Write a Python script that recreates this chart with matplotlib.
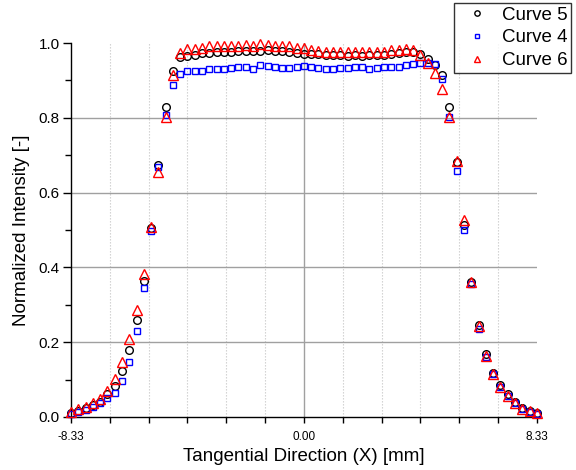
import numpy as np
import matplotlib
matplotlib.use("Agg")
import matplotlib.pyplot as plt

plt.rcParams["font.family"] = ["Liberation Sans", "DejaVu Sans"]

# sample positions across the tangential direction (65 points, -8.33 .. 8.33 mm)
x_mm = np.linspace(-8.33, 8.33, 65)

curve5 = [0.010, 0.016, 0.023, 0.031, 0.041, 0.061, 0.084, 0.122, 0.180, 0.260,
          0.363, 0.504, 0.673, 0.828, 0.925, 0.962, 0.966, 0.967, 0.972, 0.974,
          0.976, 0.977, 0.976, 0.978, 0.978, 0.978, 0.979, 0.980, 0.979, 0.978,
          0.975, 0.972, 0.971, 0.970, 0.970, 0.968, 0.968, 0.967, 0.965, 0.967,
          0.966, 0.968, 0.968, 0.969, 0.971, 0.972, 0.977, 0.977, 0.971, 0.958,
          0.941, 0.914, 0.830, 0.683, 0.513, 0.362, 0.245, 0.168, 0.118, 0.086,
          0.061, 0.041, 0.025, 0.016, 0.010]

curve4 = [0.008, 0.013, 0.020, 0.028, 0.037, 0.050, 0.065, 0.096, 0.147, 0.230,
          0.344, 0.496, 0.668, 0.808, 0.888, 0.917, 0.925, 0.925, 0.925, 0.930,
          0.930, 0.930, 0.932, 0.937, 0.936, 0.931, 0.940, 0.938, 0.935, 0.934,
          0.933, 0.937, 0.939, 0.936, 0.932, 0.930, 0.930, 0.933, 0.934, 0.936,
          0.935, 0.930, 0.932, 0.935, 0.937, 0.937, 0.940, 0.944, 0.946, 0.947,
          0.943, 0.903, 0.801, 0.658, 0.500, 0.355, 0.236, 0.160, 0.115, 0.081,
          0.057, 0.037, 0.021, 0.012, 0.008]

curve6 = [0.013, 0.021, 0.028, 0.037, 0.048, 0.070, 0.102, 0.148, 0.208, 0.285,
          0.382, 0.507, 0.655, 0.803, 0.914, 0.972, 0.983, 0.983, 0.986, 0.991,
          0.992, 0.993, 0.993, 0.993, 0.995, 0.993, 0.997, 0.995, 0.993, 0.992,
          0.991, 0.987, 0.986, 0.981, 0.979, 0.977, 0.977, 0.977, 0.977, 0.977,
          0.977, 0.976, 0.976, 0.977, 0.980, 0.980, 0.984, 0.981, 0.968, 0.947,
          0.919, 0.876, 0.803, 0.685, 0.527, 0.362, 0.244, 0.163, 0.115, 0.081,
          0.057, 0.038, 0.022, 0.015, 0.011]

x_edge = 8.33
x_major = [-x_edge, 0.0, x_edge]
x_minor = [-x_edge + k * x_edge / 6 for k in range(13)]

fig = plt.figure(figsize=(5.76, 4.70), dpi=100)
ax = fig.add_axes([0.1233, 0.1128, 0.8087, 0.7957])

# grid
for xv in x_minor[1:-1]:
    if abs(xv) > 1e-9:
        ax.axvline(xv, color="#cccccc", lw=0.8, ls=(0, (1.2, 1.5)), zorder=0)
ax.axvline(0.0, color="#a0a0a0", lw=1.0, zorder=0)
for yv in [0.2, 0.4, 0.6, 0.8]:
    ax.axhline(yv, color="#a0a0a0", lw=1.0, zorder=0)

ax.plot(x_mm, curve5, ls="none", marker="o", ms=5.5, mfc="none", mec="black",
        mew=1.0, label="Curve 5", clip_on=False, zorder=3)
ax.plot(x_mm, curve4, ls="none", marker="s", ms=5.0, mfc="none", mec="#0000ff",
        mew=1.0, label="Curve 4", clip_on=False, zorder=3)
ax.plot(x_mm, curve6, ls="none", marker="^", ms=6.5, mfc="none", mec="#ff0000",
        mew=1.0, label="Curve 6", clip_on=False, zorder=3)

ax.set_xlim(-x_edge, x_edge)
ax.set_ylim(0.0, 1.0)

ax.set_xticks(x_major)
ax.set_xticklabels(["-8.33", "0.00", "8.33"], fontsize=8.5)
ax.set_xticks(x_minor, minor=True)
ax.set_yticks(np.arange(0, 1.01, 0.2))
ax.set_yticklabels(["0.0", "0.2", "0.4", "0.6", "0.8", "1.0"], fontsize=11)
ax.set_yticks(np.arange(0.1, 1.0, 0.2), minor=True)

ax.tick_params(axis="x", which="both", direction="out", length=4, width=1, pad=6)
ax.tick_params(axis="y", which="major", direction="out", length=6, width=1, pad=2)
ax.tick_params(axis="y", which="minor", direction="out", length=4, width=1)

for side in ["top", "right"]:
    ax.spines[side].set_visible(False)
for side in ["left", "bottom"]:
    ax.spines[side].set_linewidth(1.0)

ax.set_xlabel("Tangential Direction (X) [mm]", fontsize=13.5, labelpad=4)
ax.set_ylabel("Normalized Intensity [-]", fontsize=13.5, labelpad=6)

leg = fig.legend(loc="upper right", bbox_to_anchor=(0.992, 0.994),
                 fontsize=13.5, frameon=True, fancybox=False, markerscale=0.7,
                 handlelength=2.0, handletextpad=0.35, borderpad=0.2,
                 labelspacing=0.3, borderaxespad=0.0)
leg.get_frame().set_edgecolor("black")
leg.get_frame().set_linewidth(1.0)

fig.savefig("out.png", dpi=100)
